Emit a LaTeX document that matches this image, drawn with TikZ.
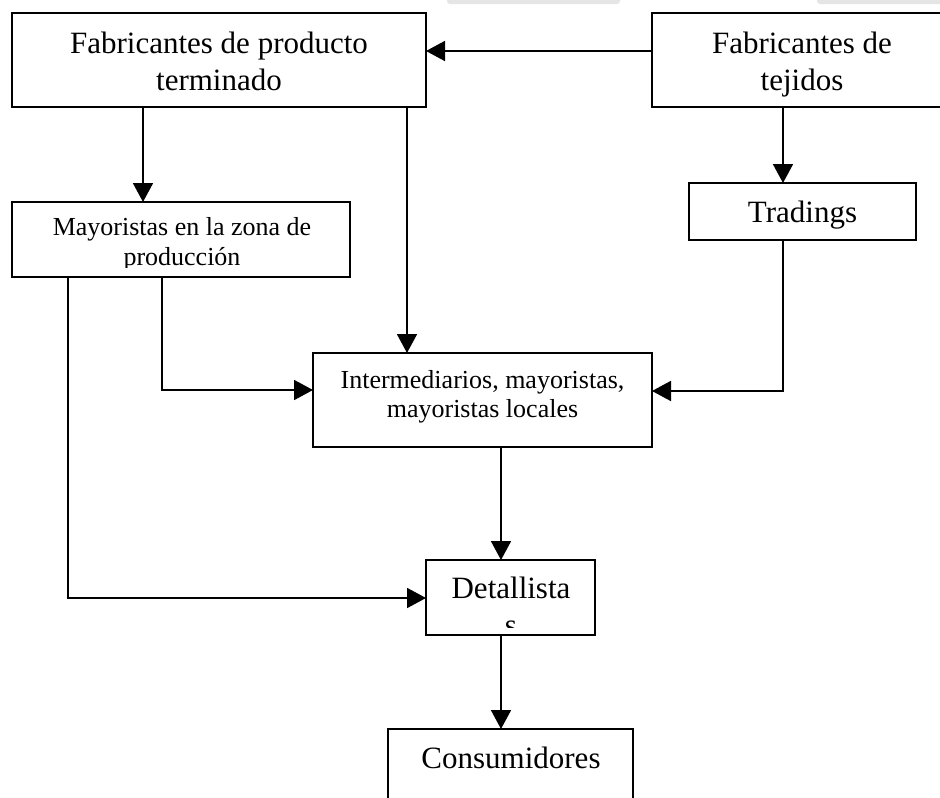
\documentclass[tikz,border=0pt]{standalone}
\usepackage{fontspec}
\setmainfont{Liberation Serif}
\usetikzlibrary{arrows.meta}
\begin{document}
\begin{tikzpicture}[x=1pt,y=-1pt,
  box/.style={draw,line width=1.8pt,rectangle,anchor=north west,inner sep=0pt,outer sep=0pt},
  big/.style={anchor=base,inner sep=0pt,font=\fontsize{31}{37}\selectfont},
  small/.style={anchor=base,inner sep=0pt,font=\fontsize{26}{30}\selectfont},
  arr/.style={line width=1.8pt,-{Triangle[length=19pt,width=20pt]}}]
\useasboundingbox (0,0) rectangle (940,798);
\fill[white] (0,0) rectangle (940,798);
% faint grey marks at the top edge
\fill[gray!20, rounded corners=3pt] (447,-6) rectangle (620,4);
\fill[gray!20, rounded corners=3pt] (817,-6) rectangle (952,4);
% boxes
\node[box,minimum width=414pt,minimum height=94pt] (fpt) at (12,13) {};
\node[box,minimum width=300pt,minimum height=94pt] (ft) at (652,13) {};
\node[box,minimum width=338pt,minimum height=75pt] (may) at (12,202) {};
\node[box,minimum width=227pt,minimum height=57pt] (trad) at (689,183) {};
\node[box,minimum width=339pt,minimum height=94pt] (int) at (313,353) {};
\node[box,minimum width=169pt,minimum height=75pt] (det) at (426,560) {};
\node[box,minimum width=245pt,minimum height=110pt] (cons) at (388,729) {};
% texts
\node[big] (fptA) at (219,53) {Fabricantes de producto};
\node[big] (fptB) at (219,90) {terminado};
\node[big] (ftA) at (802,53) {Fabricantes de};
\node[big] (ftB) at (802,90) {tejidos};
\node[big] (tradT) at (802.5,222) {Tradings};
\node[small] (intA) at (482.5,388) {Intermediarios, mayoristas,};
\node[small] (intB) at (482.5,417) {mayoristas locales};
\begin{scope}
\clip (12,202) rectangle (350,267);
\node[small] (mayA) at (182,235) {Mayoristas en la zona de};
\node[small] (mayB) at (182,265) {producción};
\end{scope}
\begin{scope}
\clip (426,560) rectangle (595,627);
\node[big] (detA) at (511,598) {Detallista};
\node[big] (detB) at (511,635) {s};
\end{scope}
\node[big] (consT) at (511,768) {Consumidores};
% coordinates for connector positions
\coordinate (h51) at (0,51);
\coordinate (v143) at (143,0);
\coordinate (v407) at (407,0);
\coordinate (v783) at (783,0);
\coordinate (h391) at (0,391);
\coordinate (v162) at (162,0);
\coordinate (h390) at (0,390);
\coordinate (v68) at (68,0);
\coordinate (h598) at (0,598);
\coordinate (v501) at (501,0);
% connectors
\draw[arr] (ft.west |- h51) -- (fpt.east |- h51);
\draw[arr] (fpt.south -| v143) -- (may.north -| v143);
\draw[arr] (fpt.south -| v407) -- (int.north -| v407);
\draw[arr] (ft.south -| v783) -- (trad.north -| v783);
\draw[arr] (trad.south -| v783) |- (int.east |- h391);
\draw[arr] (may.south -| v162) |- (int.west |- h390);
\draw[arr] (may.south -| v68) |- (det.west |- h598);
\draw[arr] (int.south -| v501) -- (det.north -| v501);
\draw[arr] (det.south -| v501) -- (cons.north -| v501);
\end{tikzpicture}
\end{document}
